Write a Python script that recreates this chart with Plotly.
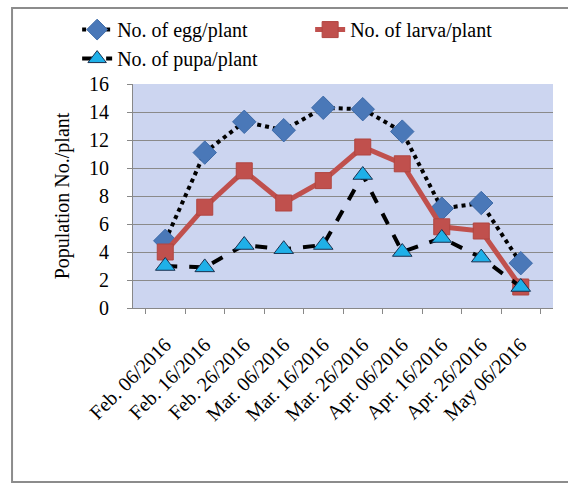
import plotly.graph_objects as go

dates = ["Feb. 06/2016", "Feb. 16/2016", "Feb. 26/2016", "Mar. 06/2016", "Mar. 16/2016",
         "Mar. 26/2016", "Apr. 06/2016", "Apr. 16/2016", "Apr. 26/2016", "May 06/2016"]
egg = [4.8, 11.1, 13.3, 12.7, 14.3, 14.2, 12.6, 7.1, 7.5, 3.2]
larva = [4.0, 7.2, 9.8, 7.5, 9.1, 11.5, 10.3, 5.8, 5.5, 1.5]
pupa = [3.0, 2.9, 4.5, 4.2, 4.5, 9.5, 4.0, 5.0, 3.6, 1.5]
y_ticks = [0, 2, 4, 6, 8, 10, 12, 14, 16]

FONT = "Liberation Serif, Times New Roman, serif"

fig = go.Figure()
fig.add_trace(go.Scatter(
    x=dates, y=egg, name="No. of egg/plant", mode="lines+markers",
    line=dict(color="black", width=4, dash="dot"),
    marker=dict(symbol="diamond", size=18, color="#4a78b8", line=dict(color="#3d6aa8", width=1))))
fig.add_trace(go.Scatter(
    x=dates, y=larva, name="No. of larva/plant", mode="lines+markers",
    line=dict(color="#c0504d", width=5),
    marker=dict(symbol="square", size=16, color="#c0504d", line=dict(color="#b04540", width=1))))
fig.add_trace(go.Scatter(
    x=dates, y=pupa, name="No. of pupa/plant", mode="lines+markers",
    line=dict(color="black", width=4, dash="dash"),
    marker=dict(symbol="triangle-up", size=17, color="#1fb0e8", line=dict(color="#1a3050", width=1))))

fig.update_layout(
    width=568, height=486,
    margin=dict(l=133, r=15, t=84, b=178, autoexpand=False),
    paper_bgcolor="white",
    plot_bgcolor="#ccd5f0",
    font=dict(family=FONT, size=20, color="black"),
    showlegend=True,
    legend=dict(orientation="h", x=-0.133, y=1.33, xanchor="left", yanchor="top",
                entrywidth=188, entrywidthmode="pixels",
                font=dict(family=FONT, size=20), bgcolor="rgba(0,0,0,0)",
                traceorder="normal"),
    xaxis=dict(type="category", tickangle=-45, tickson="boundaries",
               ticks="outside", ticklen=5, tickcolor="#888888",
               showline=True, linecolor="#888888", linewidth=1,
               ticklabelstandoff=16,
               showgrid=False, tickfont=dict(family=FONT, size=20)),
    yaxis=dict(range=[0, 16], tickvals=y_ticks, ticks="outside", ticklen=5,
               tickcolor="#888888", showline=True, linecolor="#888888",
               gridcolor="#8a8a8a", gridwidth=1, zeroline=False,
               ticklabelstandoff=14,
               tickfont=dict(family=FONT, size=20),
               title=dict(text="Population No./plant", standoff=14,
                          font=dict(family=FONT, size=20))),
    shapes=[dict(type="rect", xref="paper", yref="paper",
                 x0=-0.288, x1=1.06, y0=-0.777, y1=1.339,
                 line=dict(color="#8c8c8c", width=2), layer="below")],
)

fig.write_html("out.html")
